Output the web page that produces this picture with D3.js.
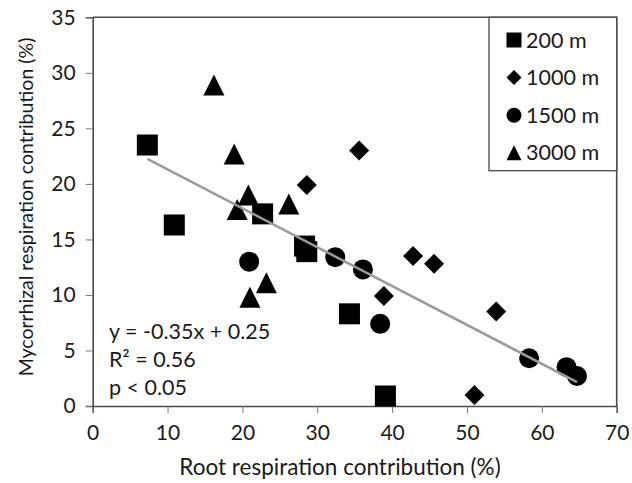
<!DOCTYPE html>
<html>
<head>
<meta charset="utf-8">
<script src="https://cdn.jsdelivr.net/npm/d3@7"></script>
<style>
  body { margin: 0; background: #fff; }
  svg text { font-family: Lato, "Open Sans", sans-serif; fill: #1a1a1a; }
</style>
</head>
<body>
<svg id="chart" width="632" height="483"></svg>
<script>
// root vs mycorrhizal respiration contribution, by elevation
var site200 = [[7.3, 23.5], [10.9, 16.3], [22.7, 17.3], [28.3, 14.4], [28.6, 13.9], [34.3, 8.3], [39.1, 0.9]];
var site1000 = [[28.6, 19.9], [35.6, 23.0], [38.9, 9.9], [42.8, 13.5], [45.6, 12.8], [53.9, 8.5], [51.0, 1.0]];
var site1500 = [[20.9, 13.0], [32.4, 13.4], [36.1, 12.3], [38.4, 7.4], [58.3, 4.3], [63.3, 3.5], [64.7, 2.7]];
var site3000 = [[16.2, 28.9], [18.9, 22.7], [19.3, 17.7], [20.8, 19.0], [21.0, 9.8], [23.2, 11.1], [26.2, 18.2]];
var seriesNames = ['200 m', '1000 m', '1500 m', '3000 m'];
var fitSlope = -0.35, fitIntercept = 24.8, fitRange = [7.3, 64.7];
var statLines = ['y = -0.35x + 0.25', 'R² = 0.56', 'p < 0.05'];
var xTicks = [0, 10, 20, 30, 40, 50, 60, 70];
var yTicks = [0, 5, 10, 15, 20, 25, 30, 35];

var svg = d3.select('#chart');
var x = d3.scaleLinear().domain([0, 70]).range([92.7, 616.7]);
var y = d3.scaleLinear().domain([0, 35]).range([406, 17.3]);

// marker shapes, drawn around 0,0
var shapes = {
	square: function (s) { var h = s / 2; return 'M' + -h + ',' + -h + 'H' + h + 'V' + h + 'H' + -h + 'Z'; },
	diamond: function (s) { var h = s / 2; return 'M0,' + -h + 'L' + h + ',0L0,' + h + 'L' + -h + ',0Z'; },
	circle: function (s) { var r = s / 2; return 'M' + r + ',0A' + r + ',' + r + ' 0 1,1 ' + -r + ',0A' + r + ',' + r + ' 0 1,1 ' + r + ',0Z'; },
	triangle: function (s) { var h = s / 2; return 'M0,' + -h + 'L' + h + ',' + h + 'L' + -h + ',' + h + 'Z'; }
};
var series = [
	{data: site200, shape: 'square', size: 21, legendSize: 15},
	{data: site1000, shape: 'diamond', size: 20, legendSize: 15},
	{data: site1500, shape: 'circle', size: 20, legendSize: 15},
	{data: site3000, shape: 'triangle', size: 21, legendSize: 15}
];

// axes
var xAxis = svg.append('g').attr('transform', 'translate(0,' + y(0) + ')')
	.call(d3.axisBottom(x).tickValues(xTicks).tickSize(7).tickPadding(12));
var yAxis = svg.append('g').attr('transform', 'translate(' + x(0) + ',0)')
	.call(d3.axisLeft(y).tickValues(yTicks).tickSize(7).tickPadding(10));
[xAxis, yAxis].forEach(function (g) {
	g.select('.domain').attr('stroke', '#4a4a4a').attr('stroke-width', 1.6);
	g.selectAll('.tick line').attr('stroke', '#777').attr('stroke-width', 1);
	g.selectAll('.tick text').attr('font-size', 21).attr('fill', '#1a1a1a');
});

// frame top/right
svg.append('path')
	.attr('d', 'M' + x(0) + ',' + y(35) + 'H' + x(70) + 'V' + y(0))
	.attr('fill', 'none').attr('stroke', '#4a4a4a').attr('stroke-width', 1.6);

// markers
series.forEach(function (s) {
	svg.append('g').selectAll('path').data(s.data).enter().append('path')
		.attr('d', shapes[s.shape](s.size))
		.attr('transform', function (d) { return 'translate(' + x(d[0]) + ',' + y(d[1]) + ')'; })
		.attr('fill', '#000');
});

// regression line
svg.append('line')
	.attr('x1', x(fitRange[0])).attr('y1', y(fitIntercept + fitSlope * fitRange[0]))
	.attr('x2', x(fitRange[1])).attr('y2', y(fitIntercept + fitSlope * fitRange[1]))
	.attr('stroke', '#9a9a9a').attr('stroke-width', 2.5);

// stats text
svg.append('g').selectAll('text').data(statLines).enter().append('text')
	.attr('x', 109).attr('y', function (d, i) { return 339 + i * 28; })
	.attr('font-size', 21.5).text(function (d) { return d; });

// legend
var legend = svg.append('g');
legend.append('rect').attr('x', 489).attr('y', y(35)).attr('width', 616.7 - 489).attr('height', 170.7 - y(35))
	.attr('fill', '#fff').attr('stroke', '#4a4a4a').attr('stroke-width', 1.3);
series.forEach(function (s, i) {
	var cy = 40 + i * 37.6;
	legend.append('path').attr('d', shapes[s.shape](s.legendSize))
		.attr('transform', 'translate(514,' + cy + ')').attr('fill', '#000');
	legend.append('text').attr('x', 526).attr('y', cy + 7.5).attr('font-size', 21.5).text(seriesNames[i]);
});

// axis titles
svg.append('text').attr('x', 340).attr('y', 475).attr('text-anchor', 'middle').attr('font-size', 22.5)
	.text('Root respiration contribution (%)');
svg.append('text').attr('transform', 'translate(33,207) rotate(-90)').attr('text-anchor', 'middle').attr('font-size', 19.5)
	.text('Mycorrhizal respiration contribution (%)');
</script>
</body>
</html>
